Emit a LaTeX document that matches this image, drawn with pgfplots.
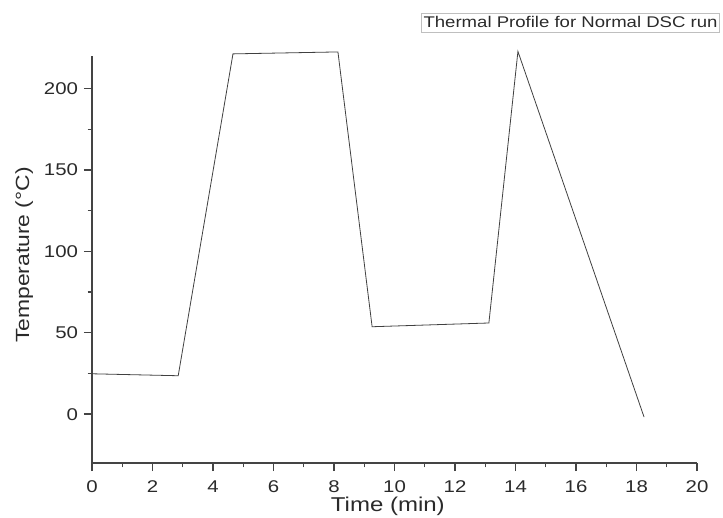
\documentclass[border=0pt]{standalone}
\usepackage{pgfplots}
\pgfplotsset{compat=1.18}
\usepackage{fontspec}
\setmainfont[FakeStretch=1.2]{Liberation Sans}
\definecolor{axgray}{HTML}{444444}
\definecolor{txtgray}{HTML}{2A2A2A}
\begin{document}
\begin{tikzpicture}
\useasboundingbox (0,0) rectangle (542.25pt,387.75pt);
\begin{axis}[
  at={(69pt,40.5pt)}, anchor=south west,
  scale only axis, width=453.75pt, height=305.25pt,
  xmin=0, xmax=20, ymin=-30, ymax=220,
  axis x line=bottom, axis y line=left,
  axis line style={-, axgray, line width=1pt},
  xtick={0,2,...,20}, ytick={0,50,...,200},
  minor x tick num=1, minor y tick num=1,
  tick align=outside,
  major tick length=6pt, minor tick length=3.2pt,
  every tick/.style={axgray, line width=1pt},
  /pgf/number format/assume math mode=true,
  tick label style={font=\fontsize{12.75pt}{14pt}\selectfont, text=txtgray},
  xticklabel style={yshift=-3.5pt},
  yticklabel style={xshift=-1pt},
  xlabel={Time (min)}, ylabel={Temperature (°C)},
  label style={font=\fontsize{15pt}{17pt}\selectfont, text=txtgray},
  xlabel style={at={(axis description cs:0.489,-0.106)}, anchor=center},
  ylabel style={at={(axis description cs:-0.112,0.511)}, anchor=center, font=\fontsize{14.3pt}{16pt}\selectfont},
  clip=false,
]
\addplot[color=black!75, line width=0.6pt] coordinates {
  (0,24.8) (2.85,23.6) (4.66,221.3) (8.13,222.5) (9.26,53.7) (13.12,56.0) (14.08,222.8) (18.25,-1.8)
};
\end{axis}
\node[draw=black!25, line width=0.6pt, minimum width=224pt, minimum height=14.25pt, inner sep=0pt,
      font=\fontsize{11.6pt}{13pt}\selectfont, text=txtgray] at (427.9pt,370.9pt) {Thermal Profile for Normal DSC run};
\end{tikzpicture}
\end{document}
